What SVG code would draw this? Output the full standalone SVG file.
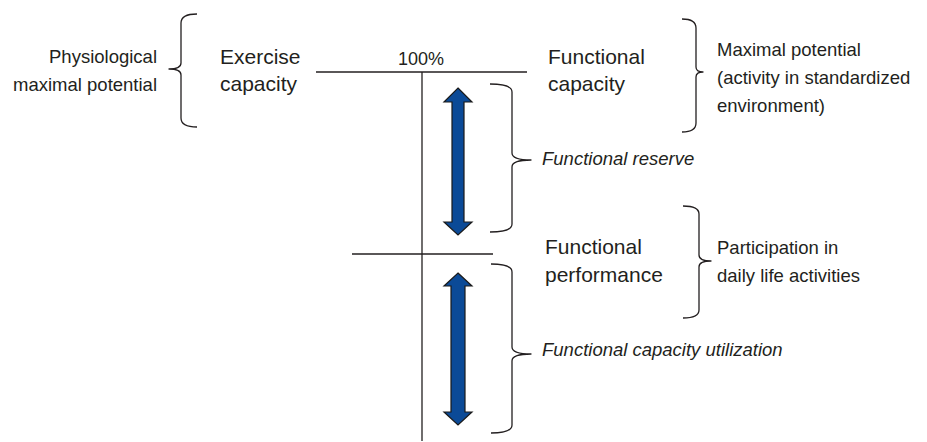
<svg xmlns="http://www.w3.org/2000/svg" width="927" height="442" viewBox="0 0 927 442">
<defs>
<style>
.t{font-family:"Liberation Sans",Arial,sans-serif;fill:#231f20}
.big{font-size:21px}
.sm{font-size:18.5px}
.it{font-size:18.5px;font-style:italic}
.ln{stroke:#231f20;stroke-width:1.3;fill:none}
.br{stroke:#231f20;stroke-width:1.3;fill:none;stroke-linejoin:round}
.ar{fill:#0b4a97;stroke:#1a1a1a;stroke-width:1.2;stroke-linejoin:miter}
</style>
</defs>
<rect width="927" height="442" fill="#ffffff"/>
<g id="connectors">
<line class="ln" x1="316" y1="72" x2="527" y2="72"/>
<line class="ln" x1="422" y1="72" x2="422" y2="441"/>
<line class="ln" x1="352" y1="254" x2="493" y2="254"/>
<path class="br" d="M197,14 Q181,14 181,23 L181,63 Q181,69 169,69 Q181,69 181,75 L181,118 Q181,127 197,127"/>
<path class="br" d="M682,19 Q696,19 696,28 L696,67 Q696,72 703,72 Q696,72 696,77 L696,123 Q696,132 682,132"/>
<path class="br" d="M490,84 Q512,84 512,92 L512,153 Q512,160 531,160 Q512,160 512,167 L512,224 Q512,232 490,232"/>
<path class="br" d="M683,206 Q699,206 699,214 L699,255 Q699,261 711,261 Q699,261 699,267 L699,310 Q699,318 683,318"/>
<path class="br" d="M491,264 Q512,264 512,272 L512,347 Q512,354 531,354 Q512,354 512,361 L512,425 Q512,433 491,433"/>
<path class="ar" d="M458,88 L472,102 L464,102 L464,222 L472,222 L458,235 L444,222 L452,222 L452,102 L444,102 Z"/>
<path class="ar" d="M458,273 L472,286 L465,286 L465,412 L472,412 L458,425 L444,412 L451,412 L451,286 L444,286 Z"/>
</g>
<g id="physiological">
<text class="t sm" x="157" y="63" text-anchor="end">Physiological</text>
<text class="t sm" x="157" y="91" text-anchor="end">maximal potential</text>
</g>
<g id="exercise-capacity">
<text class="t big" x="220" y="64">Exercise</text>
<text class="t big" x="220" y="91">capacity</text>
</g>
<g id="hundred">
<text class="t sm" x="421" y="65" text-anchor="middle" style="font-size:18px">100%</text>
</g>
<g id="functional-capacity">
<text class="t big" x="548" y="64">Functional</text>
<text class="t big" x="548" y="91">capacity</text>
</g>
<g id="maximal-potential">
<text class="t sm" x="717" y="56">Maximal potential</text>
<text class="t sm" x="717" y="84">(activity in standardized</text>
<text class="t sm" x="717" y="112">environment)</text>
</g>
<g id="functional-reserve">
<text class="t it" x="542" y="165">Functional reserve</text>
</g>
<g id="functional-performance">
<text class="t big" x="545" y="254">Functional</text>
<text class="t big" x="545" y="282">performance</text>
</g>
<g id="participation">
<text class="t sm" x="717" y="254">Participation in</text>
<text class="t sm" x="717" y="282">daily life activities</text>
</g>
<g id="utilization">
<text class="t it" x="542" y="356">Functional capacity utilization</text>
</g>
</svg>
